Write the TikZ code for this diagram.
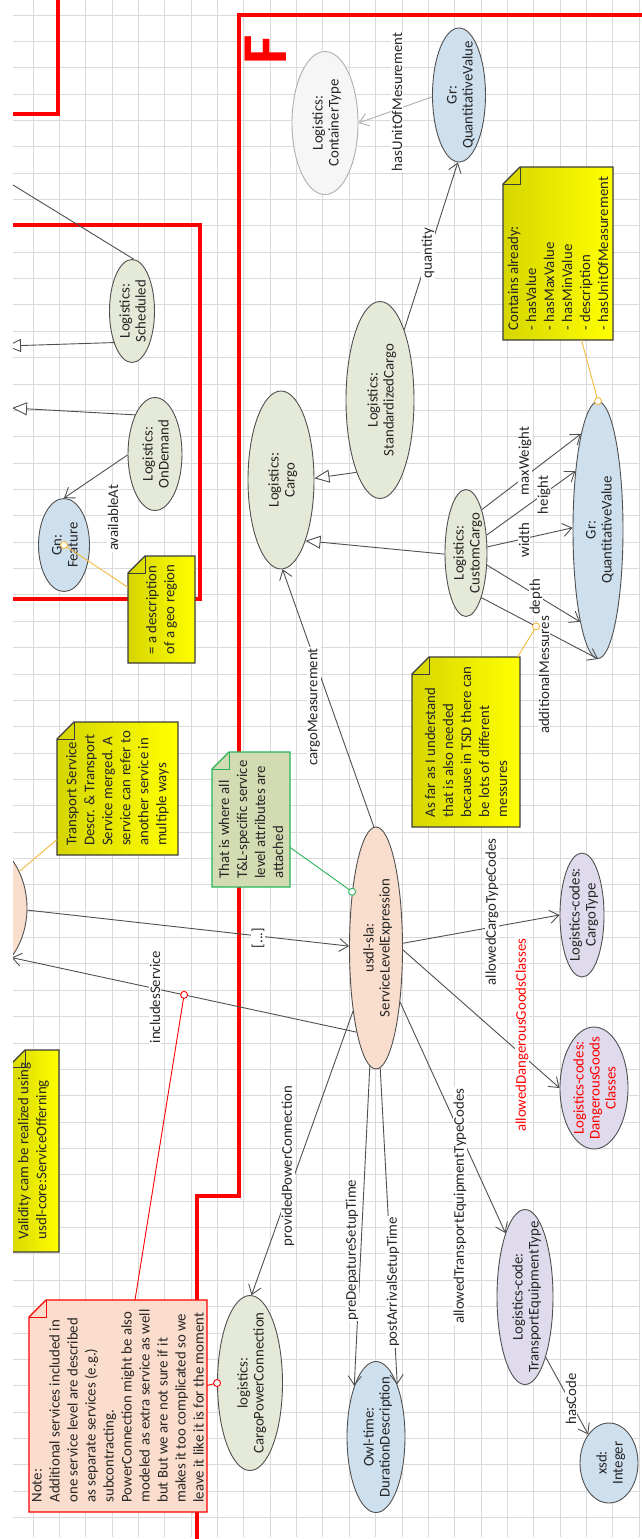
\documentclass[tikz,border=0pt]{standalone}
\usepackage{fontspec}
\setmainfont{Carlito}
\usepackage{tikz}
\usetikzlibrary{shapes.geometric, arrows.meta, calc}

\definecolor{gridc}{RGB}{218,218,218}
\definecolor{edgec}{RGB}{80,80,80}
\definecolor{lgray}{RGB}{175,175,175}
\definecolor{cgreen}{RGB}{229,233,216}
\definecolor{cblue}{RGB}{206,223,238}
\definecolor{clav}{RGB}{223,218,236}
\definecolor{cpeach}{RGB}{250,222,205}
\definecolor{cwhite}{RGB}{246,246,246}
\definecolor{noteline}{RGB}{60,60,60}
\definecolor{notedark}{RGB}{214,214,0}
\definecolor{notegreen}{RGB}{210,219,178}
\definecolor{greenline}{RGB}{40,180,90}
\definecolor{notepeach}{RGB}{250,221,204}
\definecolor{annoorange}{RGB}{245,185,60}
\definecolor{framered}{RGB}{255,0,0}

\tikzstyle{gridline} = [gridc, line width=1pt]
\tikzstyle{redframe} = [framered, line width=4pt]
\tikzstyle{cls} = [ellipse, rotate=90, draw=edgec, line width=0.9pt, inner sep=0pt, text=black!85, font=\fontsize{14.8}{16}\selectfont]
\tikzstyle{notetext} = [rectangle, rotate=90, align=left, inner sep=0pt, text=black!85, font=\fontsize{14.8}{18}\selectfont]
\tikzstyle{elabel} = [rotate=90, fill=white, inner sep=1pt, text=black!85, font=\fontsize{14.8}{16}\selectfont]
\tikzstyle{rel} = [edgec, line width=0.9pt, -{Straight Barb[length=9pt, width=13pt]}]
\tikzstyle{isa} = [edgec, line width=0.9pt, -{Triangle[open, length=15pt, width=13pt, fill=white]}]
\tikzstyle{anno} = [line width=0.9pt]
\tikzstyle{markdot} = [line width=0.9pt, fill=white]

\newcommand{\clstext}[1]{\makebox[0pt]{\raisebox{-.5\height}[0pt][0pt]{\begin{tabular}[b]{@{}c@{}}#1\end{tabular}}}}
\newcommand{\drawnote}[8]{%
  \path[#6, draw=#7, line width=1.2pt]
    ({#2-#4/2},{#3-#5/2+17}) -- ({#2-#4/2+17},{#3-#5/2}) -- ({#2+#4/2},{#3-#5/2})
    -- ({#2+#4/2},{#3+#5/2}) -- ({#2-#4/2},{#3+#5/2}) -- cycle;
  \draw[#7, line width=1pt] ({#2-#4/2},{#3-#5/2+17}) -- ++(17,0) -- ++(0,-17);
  \node[notetext, minimum width=#5pt, minimum height=#4pt] (#1) at (#2,#3) {#8};
}

\begin{document}
\begin{tikzpicture}[x=1pt, y=-1pt]
    \fill[white] (0,0) rectangle (642,1539);
    \useasboundingbox (0,0) rectangle (642,1539);
    \clip (13,0) rectangle (642,1539);

    \foreach \gx in {0,...,23}
        \draw[gridline] ({33+26.36*\gx},0) -- ++(0,1537);
    \foreach \gy in {0,...,57}
        \draw[gridline] (13,{15+26.36*\gy}) -- (640,{15+26.36*\gy});

    \draw[redframe] (58,-5) -- (58,114) -- (0,114);
    \draw[redframe] (0,225) -- (200,225) -- (200,599) -- (0,599);
    \draw[redframe] (650,15) -- (239,15) -- (239,1196) -- (197,1196) -- (197,1550);
    \node[rotate=90, text=framered, inner sep=0pt, font=\fontsize{64}{64}\selectfont\bfseries] (flag) at (266,50) {F};

    \drawnote{nCont}{558}{253.5}{110}{173}{left color=notedark, right color=yellow}{noteline}{Contains already:\\- hasValue\\- hasMaxValue\\- hasMinValue\\- description\\- hasUnitOfMeasurement}
    \drawnote{nGeo}{161.5}{609.5}{67}{107}{left color=notedark, right color=yellow}{noteline}{= a description\\of a geo region}
    \drawnote{nTS}{117.5}{788.5}{121}{133}{left color=notedark, right color=yellow}{noteline}{Transport Service\\Descr. \& Transport\\Service merged. A\\service can refer to\\another service in\\multiple ways}
    \drawnote{nGreen}{251}{819.5}{78}{135}{fill=notegreen}{greenline}{That is where all\\T\&L-specific service\\level attributes are\\attached}
    \drawnote{nVal}{33.5}{1151}{51}{202}{left color=notedark, right color=yellow}{noteline}{Validity cam be realized using\\usdl-core:ServiceOfferning}
    \drawnote{nRed}{118}{1406}{178}{212}{fill=notepeach}{framered}{Note:\\Additional services included in\\one service level are described\\as separate services (e.g.)\\subcontracting.\\PowerConnection might be also\\modeled as extra service as well\\but But we are not sure if it\\makes it too complicated so we\\leave it like it is for the moment}
    \drawnote{nMess}{466}{742}{108}{170}{left color=notedark, right color=yellow}{noteline}{As far as I understand\\that is also needed\\because in TSD there can\\be lots of different\\messures}

    \node[cls, fill=cwhite, draw=lgray, minimum width=143pt, minimum height=66pt] (ctype) at (325,123) {\clstext{Logistics:\\ContainerType}};
    \node[cls, fill=cblue, minimum width=134pt, minimum height=53pt] (qv1) at (459,95) {\clstext{Gr:\\QuantitativeValue}};
    \node[cls, fill=cgreen, minimum width=178pt, minimum height=66pt] (cargo) at (281,480) {\clstext{Logistics:\\Cargo}};
    \node[cls, fill=cgreen, minimum width=197pt, minimum height=68pt] (std) at (380,400) {\clstext{Logistics:\\StandardizedCargo}};
    \node[cls, fill=cgreen, minimum width=127pt, minimum height=42pt] (cust) at (466,553) {\clstext{Logistics:\\CustomCargo}};
    \node[cls, fill=cblue, minimum width=257pt, minimum height=50pt] (qv2) at (598,530) {\clstext{Gr:\\QuantitativeValue}};
    \node[cls, fill=cblue, minimum width=93pt, minimum height=51pt] (feat) at (64,545) {\clstext{Gn:\\Feature}};
    \node[cls, fill=cgreen, minimum width=113pt, minimum height=54pt] (ondem) at (155,454) {\clstext{Logistics:\\OnDemand}};
    \node[cls, fill=cgreen, minimum width=103pt, minimum height=45pt] (sched) at (132,311) {\clstext{Logistics:\\Scheduled}};
    \node[cls, fill=cpeach, minimum width=146pt, minimum height=120pt] (svc) at (-33,908) {};
    \node[cls, fill=cpeach, minimum width=242pt, minimum height=53pt] (sle) at (376,948) {\clstext{usdl-sla:\\ServiceLevelExpression}};
    \node[cls, fill=clav, minimum width=124pt, minimum height=44pt] (ctcode) at (582,915) {\clstext{Logistics-codes:\\CargoType}};
    \node[cls, fill=clav, text=red, minimum width=122pt, minimum height=68pt] (dgc) at (594,1088) {\clstext{Logistics-codes:\\DangerousGoods\\Classes}};
    \node[cls, fill=clav, minimum width=175pt, minimum height=56pt] (tet) at (525,1297) {\clstext{Logistics-code:\\TransportEquipmentType}};
    \node[cls, fill=cblue, minimum width=80pt, minimum height=58pt] (int) at (609,1463) {\clstext{xsd:\\Integer}};
    \node[cls, fill=cblue, minimum width=151pt, minimum height=58pt] (dur) at (376,1437) {\clstext{Owl-time:\\DurationDescription}};
    \node[cls, fill=cgreen, minimum width=175pt, minimum height=65pt] (cpc) at (250,1383) {\clstext{logistics:\\CargoPowerConnection}};

    \coordinate (supA) at (12,408);
    \coordinate (supB) at (6,346);
    \coordinate (supC) at (0,177);

    \draw[rel, lgray] (qv1.94) -- (ctype.-90) node[elabel] at (397,102) {hasUnitOfMesurement};
    \draw[rel] (std.-19) -- (qv1.179) node[elabel] at (428,253) {quantity};
    \draw[isa] (std.162) -- (cargo.-87);
    \draw[isa] (cust.93) -- (cargo.-158);
    \draw[rel] (cust.-20) -- (qv2.10) node[elabel] at (525,461) {maxWeight};
    \draw[rel] (cust.-49) -- (qv2.21) node[elabel] at (544,495) {height};
    \draw[rel] (cust.-74) -- (qv2.85) node[elabel] at (524,540) {width};
    \draw[rel] (cust.-120) -- (qv2.169) node[elabel] at (536,597) {depth};
    \draw[rel] (cust.-161) -- coordinate[pos=0.47] (messdot) (qv2.180) node[elabel] at (544,675) {additionalMessures};
    \draw[rel] (sle.1) -- (cargo.-179) node[elabel] at (314,707) {cargoMeasurement};
    \draw[rel] (svc.-92) -- (sle.86) node[elabel] at (258,938) {[...]};
    \draw[rel] (sle.167) -- coordinate[pos=0.5] (incdot) (svc.-138) node[elabel] at (155,997) {includesService};
    \draw[rel] (sle.160) -- (cpc.-1) node[elabel] at (288,1166) {providedPowerConnection};
    \draw[rel] (sle.177) -- (dur.23) node[elabel] at (352,1250) {preDepatureSetupTime};
    \draw[rel] (sle.-178) -- (dur.-22) node[elabel] at (393,1282) {postArrivalSetupTime};
    \draw[rel] (sle.-156) -- (tet.17) node[elabel] at (460,1206) {allowedTransportEquipmentTypeCodes};
    \draw[rel] (sle.-80) -- (ctcode.90) node[elabel] at (492,912) {allowedCargoTypeCodes};
    \draw[rel] (sle.-94) -- (dgc.90) node[elabel, text=red] at (522,1035) {allowedDangerousGoodsClasses};
    \draw[rel] (tet.-161) -- (int.36) node[elabel] at (571,1399) {hasCode};
    \draw[rel] (ondem.92) -- (feat.0) node[elabel] at (113,518) {availableAt};
    \draw[isa] (ondem.27) -- (supA);
    \draw[isa] (sched.150) -- (supB);
    \draw[edgec, line width=0.9pt] (supC) -- (sched.-2);

    \draw[anno, annoorange] (nCont) -- (qv2.0);
    \draw[annoorange, markdot] (qv2.0) circle (3.5pt);
    \draw[anno, annoorange] (nGeo) -- (feat.center);
    \draw[annoorange, markdot] (feat.center) circle (3.5pt);
    \draw[anno, annoorange] (nTS) -- (svc.-55);
    \draw[anno, greenline] (nGreen) -- (sle.23);
    \draw[greenline, markdot] (sle.23) circle (3.5pt);
    \draw[anno, framered] (nRed) -- (incdot);
    \draw[framered, markdot] (incdot) circle (3.5pt);
    \draw[anno, framered] (nRed) -- (cpc.90);
    \draw[framered, markdot] (cpc.90) circle (3.5pt);
    \draw[anno, annoorange] (nMess) -- (messdot);
    \draw[annoorange, markdot] (messdot) circle (3.5pt);
\end{tikzpicture}
\end{document}
